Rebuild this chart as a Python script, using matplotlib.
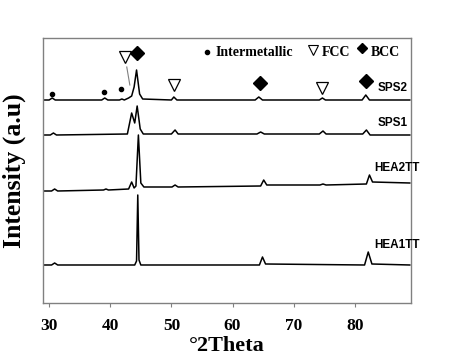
import matplotlib
matplotlib.use("Agg")
import matplotlib.pyplot as plt

# XRD patterns, points (2theta, intensity in arbitrary units)
sps2_x = [29, 30.0, 30.5, 31.0, 38.6, 39.1, 39.6, 41.5, 41.9, 42.3, 43.0, 43.5, 43.9, 44.3, 44.8,
          45.3, 50.0, 50.4, 50.9, 63.7, 64.3, 64.9, 74.2, 74.7, 75.2, 81.2, 81.8, 82.4, 89]
sps2_y = [203, 203, 205, 203, 203, 205, 203, 203, 204, 203, 205, 207, 216, 233, 209,
          204, 203, 206, 203, 203, 206, 203, 203, 205, 203, 203, 208, 203, 203]

sps1_x = [29, 30.2, 30.7, 31.2, 42.8, 43.5, 44.0, 44.4, 44.9, 45.4, 50.0, 50.6, 51.1, 64.0, 64.6,
          65.2, 74.2, 74.8, 75.3, 81.3, 81.9, 82.5, 89]
sps1_y = [168, 168, 170, 168, 169, 190, 180, 197, 174, 169, 169, 173, 169, 169, 171,
          169, 169, 172, 169, 169, 173, 168, 168]

hea2_x = [29, 30.4, 30.9, 31.4, 38.9, 39.3, 39.7, 43.0, 43.5, 43.9, 44.2, 44.6, 45.0, 45.5,
          50.1, 50.6, 51.1, 64.6, 65.1, 65.6, 74.3, 74.8, 75.3, 81.9, 82.4, 82.9, 89]
hea2_y = [112, 112, 114, 112, 113, 114, 113, 114, 121, 115, 117, 168, 120, 116,
          116, 118, 116, 117, 123, 118, 118, 119, 118, 119, 128, 121, 120]

hea1_x = [29, 30.4, 30.9, 31.4, 44.0, 44.3, 44.5, 44.7, 45.0, 64.4, 64.9, 65.4, 81.6, 82.2, 82.8, 89]
hea1_y = [38, 38, 40, 38, 38, 42, 108, 43, 38, 38, 46, 39, 38, 51, 39, 38]

patterns = [(sps2_x, sps2_y), (sps1_x, sps1_y), (hea2_x, hea2_y), (hea1_x, hea1_y)]
labels = ["SPS2", "SPS1", "HEA2TT", "HEA1TT"]
label_x = [88.7, 88.7, 90.6, 90.6]
label_y = [215, 180, 135, 58]

# phase markers above SPS2
inter_x = [30.5, 39.0, 41.8]
inter_y = [209, 211, 214]
fcc_x = [42.4, 50.4, 74.6]
fcc_y = [246, 218, 215]
bcc_x = [44.3, 64.5, 81.8]
bcc_y = [250, 220, 222]

serif = ["Liberation Serif", "DejaVu Serif"]

fig = plt.figure(figsize=(4.5, 3.64), dpi=100)
ax = fig.add_axes([0.0956, 0.1676, 0.8178, 0.728])

for x, y in patterns:
    ax.plot(x, y, color="black", lw=1.1)

for lab, lx, ly in zip(labels, label_x, label_y):
    ax.text(lx, ly, lab, ha="right", va="center", fontsize=8.5, fontweight="bold",
            family="Liberation Sans", clip_on=False)

ax.plot(inter_x, inter_y, "o", color="black", ms=3)
ax.plot(fcc_x, fcc_y, "v", mfc="white", mec="black", ms=9, mew=0.9)
ax.plot(bcc_x, bcc_y, "D", color="black", ms=7)
ax.plot([42.7, 43.2], [236, 218], color="gray", lw=0.8)

# legend row
ax.plot([55.8], [251], "o", color="black", ms=3)
ax.text(57.3, 251, "Intermetallic", va="center", fontsize=10, fontweight="bold", family=serif)
ax.plot([73.1], [253], "v", mfc="white", mec="black", ms=7, mew=0.8)
ax.text(74.6, 251, "FCC", va="center", fontsize=10, fontweight="bold", family=serif)
ax.plot([81.2], [255], "D", color="black", ms=5.5)
ax.text(82.7, 251, "BCC", va="center", fontsize=10, fontweight="bold", family=serif)

ax.set_xlim(29, 89.2)
ax.set_ylim(0, 265)
ax.set_xticks([30, 40, 50, 60, 70, 80])
ax.set_yticks([])
ax.tick_params(axis="x", direction="out", length=3, color="gray", pad=8)
for lab in ax.get_xticklabels():
    lab.set_fontfamily(serif)
    lab.set_fontweight("bold")
    lab.set_fontsize(12.5)
for sp in ax.spines.values():
    sp.set_color("gray")
    sp.set_linewidth(1.0)

ax.set_xlabel("°2Theta", fontsize=16, fontweight="bold", family=serif, labelpad=1)
ax.set_ylabel("Intensity (a.u)", fontsize=18.5, fontweight="bold", family=serif, labelpad=12)

fig.savefig("out.png", dpi=100)
